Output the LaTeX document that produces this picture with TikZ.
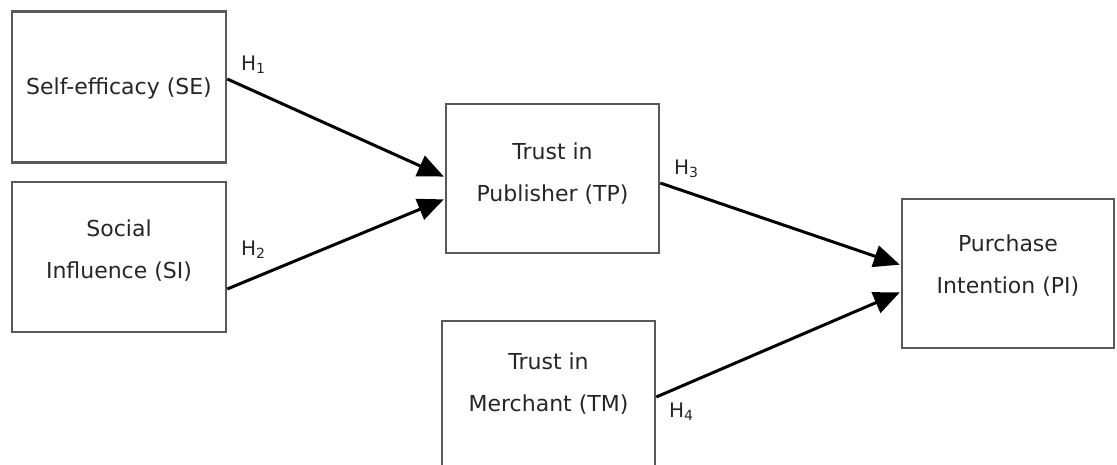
\documentclass[tikz,border=0pt]{standalone}
\usepackage{fontspec}
\setmainfont{DejaVu Sans}
\usetikzlibrary{arrows.meta}
\begin{document}
\begin{tikzpicture}[x=1pt,y=-1pt,
  box/.style={draw=black!65, line width=2.5pt, minimum width=#1, inner sep=0pt},
  boxtext/.style={align=center, font=\fontsize{22}{42}\selectfont, text=black!85},
  hyp/.style={font=\fontsize{20}{22}\selectfont, text=black!85, inner sep=0pt},
  link/.style={line width=3pt, -{Triangle[length=26pt, width=22pt]}, shorten >=1pt}]
\useasboundingbox (0,0) rectangle (1117,465);
\begin{scope}
\clip (0,0) rectangle (1117,465);
\node[box=214pt, minimum height=151pt] (SE) at (119,87) {};
\node[box=214pt, minimum height=150pt] (SI) at (119,257) {};
\node[box=213pt, minimum height=149pt] (TP) at (552.5,178.5) {};
\node[box=212pt, minimum height=149pt] (PI) at (1008,273.5) {};
\node[box=213pt, minimum height=160pt] (TM) at (548.5,401) {};
\end{scope}
\node[boxtext] (tSE) at (119,88) {Self-efficacy (SE)};
\node[boxtext] (tSI) at (119,251) {Social\\Influence (SI)};
\node[boxtext] (tTP) at (552.5,174) {Trust in\\Publisher (TP)};
\node[boxtext] (tTM) at (548.5,384) {Trust in\\Merchant (TM)};
\node[boxtext] (tPI) at (1008,266) {Purchase\\Intention (PI)};
\draw[link] ([yshift=8pt]SE.east) -- ([yshift=1.5pt]TP.west);
\draw[link] ([yshift=-32pt]SI.east) -- ([yshift=-20.5pt]TP.west);
\draw[link] ([yshift=-4.5pt]TP.east) -- ([yshift=8.5pt]PI.west);
\draw[link] ([yshift=4pt]TM.east) -- ([yshift=-18.5pt]PI.west);
\node[hyp, anchor=west] (h1) at (241,65) {H\textsubscript{1}};
\node[hyp, anchor=west] (h2) at (241,250) {H\textsubscript{2}};
\node[hyp, anchor=west] (h3) at (674,169) {H\textsubscript{3}};
\node[hyp, anchor=west] (h4) at (669,412) {H\textsubscript{4}};
\end{tikzpicture}
\end{document}
